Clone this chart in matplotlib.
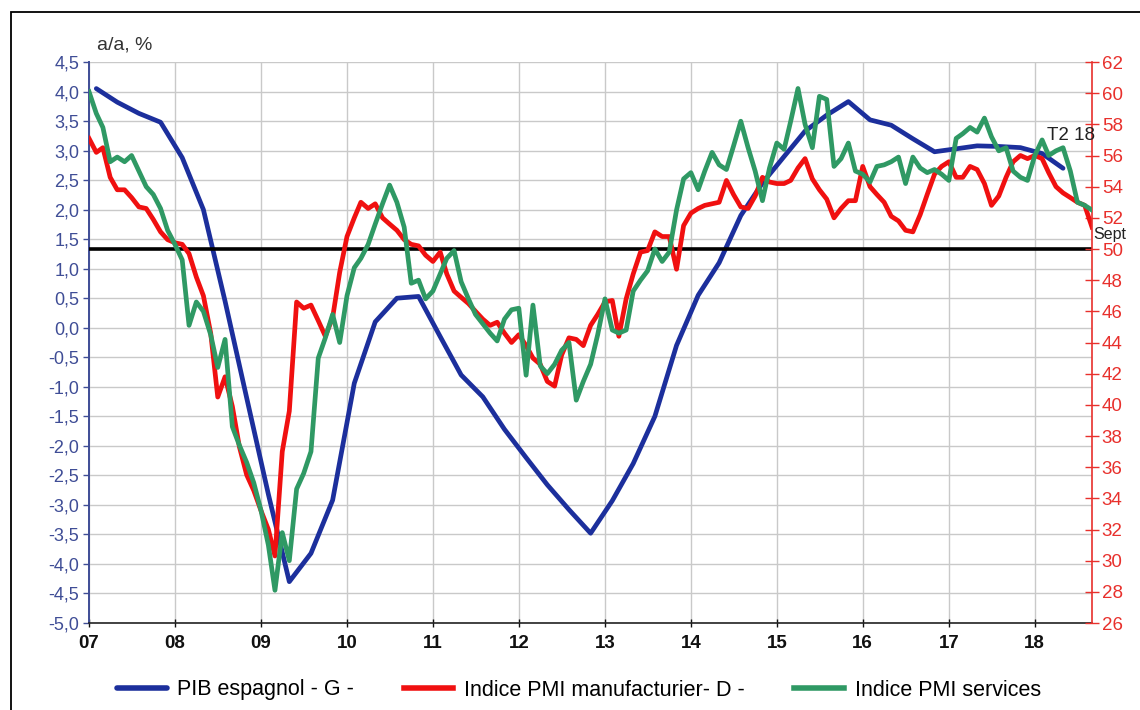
import matplotlib
matplotlib.use('Agg')
import matplotlib.pyplot as plt
import numpy as np
import pandas as pd
from matplotlib.patches import Rectangle
from matplotlib.ticker import FuncFormatter, MultipleLocator

plt.rcParams['font.family'] = ['Liberation Sans', 'DejaVu Sans']

# ---------------- data ----------------
pmi_months = pd.date_range('2007-01-01', '2018-09-01', freq='MS')
gdp_quarters = pd.date_range('2007-02-01', '2018-05-01', freq='3MS')  # mid-quarter month

gdp_yoy = [4.05, 3.82, 3.63, 3.48, 2.88, 2.00, 0.45, -1.19, -2.82, -4.30,
           -3.82, -2.92, -0.94, 0.10, 0.50, 0.53, -0.15, -0.80, -1.17, -1.72,
           -2.20, -2.66, -3.08, -3.48, -2.93, -2.30, -1.50, -0.30, 0.55, 1.10,
           1.90, 2.45, 2.90, 3.33, 3.60, 3.83, 3.52, 3.43, 3.20, 2.98,
           3.03, 3.08, 3.07, 3.05, 2.95, 2.70]

pmi_manuf = [57.1, 56.2, 56.5, 54.6, 53.8, 53.8, 53.3, 52.7, 52.6, 51.9,
             51.1, 50.6, 50.4, 50.3, 49.7, 48.2, 47.0, 44.6, 40.5, 41.8,
             39.9, 37.3, 35.5, 34.5, 33.2, 32.0, 30.3, 37.0, 39.6, 46.6,
             46.2, 46.4, 45.4, 44.4, 45.6, 48.5, 50.8, 52.0, 53.0, 52.6,
             52.9, 52.0, 51.6, 51.2, 50.6, 50.3, 50.2, 49.6, 49.2, 49.8,
             48.4, 47.3, 46.9, 46.5, 46.0, 45.5, 45.1, 45.3, 44.6, 44.0,
             44.5, 43.8, 43.0, 42.6, 41.5, 41.2, 43.2, 44.3, 44.2, 43.8,
             45.1, 45.8, 46.6, 46.7, 44.4, 46.8, 48.4, 49.8, 49.9, 51.1,
             50.8, 50.8, 48.7, 51.5, 52.3, 52.6, 52.8, 52.9, 53.0, 54.4,
             53.5, 52.7, 52.6, 53.4, 54.6, 54.3, 54.2, 54.2, 54.4, 55.2,
             55.8, 54.5, 53.8, 53.2, 52.0, 52.6, 53.1, 53.1, 55.3, 54.0,
             53.5, 53.0, 52.1, 51.8, 51.2, 51.1, 52.2, 53.5, 54.8, 55.3,
             55.6, 54.6, 54.6, 55.3, 55.1, 54.2, 52.8, 53.4, 54.6, 55.6,
             56.0, 55.8, 56.0, 55.8, 54.9, 54.0, 53.6, 53.3, 53.0, 52.8,
             51.4]

pmi_services = [60.1, 58.7, 57.8, 55.6, 55.9, 55.6, 56.0, 55.0, 54.0, 53.5,
                52.6, 51.2, 50.3, 49.3, 45.1, 46.6, 46.0, 44.5, 42.4, 44.2,
                38.6, 37.4, 36.3, 35.0, 33.2, 31.0, 28.1, 31.8, 30.0, 34.6,
                35.6, 37.0, 43.0, 44.3, 45.8, 44.0, 47.0, 48.8, 49.4, 50.3,
                51.6, 52.9, 54.1, 53.0, 51.4, 47.8, 48.0, 46.8, 47.3, 48.4,
                49.4, 49.9, 47.9, 46.8, 45.8, 45.2, 44.6, 44.1, 45.5, 46.1,
                46.2, 41.9, 46.4, 42.5, 42.0, 42.6, 43.5, 44.0, 40.3, 41.5,
                42.6, 44.5, 46.8, 44.8, 44.6, 44.8, 47.3, 48.0, 48.6, 50.0,
                49.2, 49.8, 52.5, 54.5, 54.9, 53.8, 55.0, 56.2, 55.4, 55.1,
                56.6, 58.2, 56.5, 55.0, 53.1, 55.2, 56.8, 56.4, 58.2, 60.3,
                58.0, 56.5, 59.8, 59.6, 55.3, 55.8, 56.8, 55.0, 54.8, 54.3,
                55.3, 55.4, 55.6, 55.9, 54.2, 55.9, 55.2, 54.9, 55.1, 54.8,
                54.4, 57.1, 57.4, 57.8, 57.5, 58.4, 57.2, 56.3, 56.5, 55.0,
                54.6, 54.4, 56.0, 57.0, 56.0, 56.3, 56.5, 55.0, 53.0, 52.8,
                52.5]

year_labels = ['07', '08', '09', '10', '11', '12', '13', '14', '15', '16', '17', '18']
legend_labels = ['PIB espagnol - G -', 'Indice PMI manufacturier- D -', 'Indice PMI services']
pmi_threshold = 50

# ---------------- style ----------------
C_BLUE = '#1c2f9c'
C_RED = '#f01010'
C_GREEN = '#2f9964'
C_LEFT = '#3f4d96'
C_RIGHT = '#e8302c'
C_GRID = '#c9c9c9'

W, H = 1140, 710
fig = plt.figure(figsize=(W / 100, H / 100), dpi=100)
ax = fig.add_axes([89 / W, 1 - 623 / H, (1092 - 89) / W, (623 - 62) / H])
ax2 = ax.twinx()

# axes ranges
ax.set_xlim(pmi_months[0], pmi_months[-1])
ax.set_ylim(-5, 4.5)
ax2.set_ylim(26, 62)

# grid / ticks
ax.yaxis.set_major_locator(MultipleLocator(0.5))
ax.set_xticks(pd.to_datetime([f'20{y}-01-01' for y in year_labels]))
ax.set_xticklabels(year_labels)
ax.grid(True, color=C_GRID, lw=1.0)
ax.set_axisbelow(True)

ax.yaxis.set_major_formatter(FuncFormatter(lambda v, p: f'{v + 0.0:.1f}'.replace('.', ',')))
ax2.yaxis.set_major_locator(MultipleLocator(2))

# lines
l1, = ax.plot(gdp_quarters, gdp_yoy, color=C_BLUE, lw=3.4, solid_capstyle='round',
              solid_joinstyle='round', zorder=3)
ax2.axhline(pmi_threshold, color='black', lw=2.6, zorder=1)
l2, = ax2.plot(pmi_months, pmi_manuf, color=C_RED, lw=3.4, solid_joinstyle='round', zorder=2)
l3, = ax2.plot(pmi_months, pmi_services, color=C_GREEN, lw=3.4, solid_joinstyle='round', zorder=3)

# spines
for s in ['top', 'right']:
    ax.spines[s].set_visible(False)
for s in ['top', 'left', 'bottom']:
    ax2.spines[s].set_visible(False)
ax.spines['left'].set_color(C_LEFT)
ax.spines['left'].set_linewidth(1.4)
ax.spines['bottom'].set_color('#222222')
ax.spines['bottom'].set_linewidth(1.2)
ax2.spines['right'].set_color(C_RIGHT)
ax2.spines['right'].set_linewidth(1.2)

ax.tick_params(axis='y', colors=C_LEFT, labelsize=13, length=4, width=1, pad=3)
ax.tick_params(axis='x', colors='#111111', labelsize=13.5, length=6, width=1,
               direction='inout', pad=6)
for lab in ax.get_xticklabels():
    lab.set_fontweight('bold')
ax2.tick_params(axis='y', colors=C_RIGHT, labelsize=13.5, length=10, width=1,
                direction='inout', pad=2)

# texts
fig.text(97 / W, 1 - 45 / H, 'a/a, %', fontsize=14, color='#333333', va='center', ha='left')
fig.text(1047 / W, 1 - 135 / H, 'T2 18', fontsize=13.5, color='#222222', va='center', ha='left')
fig.text(1093 / W, 1 - 234 / H, 'Sept', fontsize=11.5, color='#222222', va='center', ha='left')

# legend
fig.legend([l1, l2, l3], legend_labels, loc='center', bbox_to_anchor=(579 / W, 1 - 690 / H),
           ncol=3, frameon=False, fontsize=15.5, handlelength=2.3, columnspacing=2.3,
           handletextpad=0.5, borderaxespad=0)
for ln in fig.legends[0].get_lines():
    ln.set_linewidth(4)

# outer frame (cut by the image edges on the right and bottom)
fig.add_artist(Rectangle((11 / W, -0.05), 1.2, 1 - 12 / H + 0.05, transform=fig.transFigure,
                         fill=False, ec='black', lw=1.3))

fig.savefig('out.png', dpi=100)
